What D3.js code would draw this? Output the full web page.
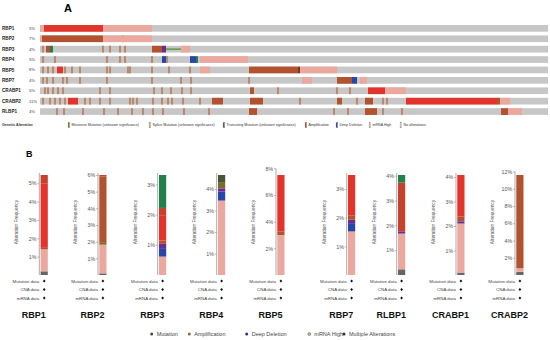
<!DOCTYPE html>
<html><head><meta charset="utf-8">
<script src="https://cdn.jsdelivr.net/npm/d3@7"></script>
<style>
html,body{margin:0;padding:0;background:#fff;}
svg{display:block;font-family:"Liberation Sans",Arial,sans-serif;}
</style></head><body>
<svg id="c" width="550" height="340"></svg>
<script>
// ---------- DATA: panel A (oncoprint) ----------
const oncoGenes = ["RBP1","RBP2","RBP3","RBP4","RBP5","RBP7","CRABP1","CRABP2","RLBP1"];
const oncoPct = ["5%","7%","4%","5%","8%","4%","5%","11%","4%"];
const sampleCount = 508;
// blocks: [startSample, endSample, type]
const blocksRBP1 = [[0,4,"mrna"],[4,63,"amp"],[63,112,"mrna"]];
const blocksRBP2 = [[0,2,"mrna"],[2,63,"ampB"],[63,112,"mrna"]];
const blocksRBP3 = [[6,10,"ampB"],[10,13,"mut"],[112,122,"ampB"],[122,126,"trunc"],[141,150,"mrna"]];
const blocksRBP4 = [[122,126,"del"],[150,156,"del"],[156,158,"mut"],[160,208,"mrna"]];
const blocksRBP5 = [[17,23,"amp"],[160,170,"mrna"],[209,258,"ampB"],[258,260,"dark"],[260,297,"mrna"]];
const blocksRBP7 = [[262,272,"mrna"],[297,312,"ampB"],[312,317,"del"],[320,327,"mrna"]];
const blocksCRABP1 = [[210,214,"ampB"],[328,345,"amp"],[345,366,"mrna"]];
const blocksCRABP2 = [[28,38,"amp"],[172,183,"ampB"],[210,223,"ampB"],[297,302,"ampB"],[325,333,"ampB"],[366,457,"amp"],[457,460,"ampB"],[460,470,"mrna"]];
const blocksRLBP1 = [[209,217,"ampB"],[325,337,"ampB"],[461,468,"ampB"],[468,482,"mrna"]];
// thin mutation lines: [start, end]
const linesRBP3 = [[126,141]];
// single-sample mutation ticks
const ticksRBP1 = [];
const ticksRBP2 = [83];
const ticksRBP3 = [3,63,70,80,85];
const ticksRBP4 = [3,15,67,80,85,112,127];
const ticksRBP5 = [3,8,13,25,32,40,67,70,88,90,112,129,150];
const ticksRBP7 = [3,7,13,23,27,40,67,112,141,151,209];
const ticksCRABP1 = [5,8,13,18,23,60,70,114,122,131,142,151,238,297,310];
const ticksCRABP2 = [3,10,15,20,25,45,50,60,70,90,93,97,113,122,128,132,143,160,260,317,343,347];
const ticksRLBP1 = [17,24,43,64,78,92,103,113,123,144,169,294,308,343,362];
const oncoLegend = ["Missense Mutation (unknown significance)","Splice Mutation (unknown significance)","Truncating Mutation (unknown significance)","Amplification","Deep Deletion","mRNA High","No alterations"];

// ---------- DATA: panel B (alteration frequency) ----------
const freqGenes = ["RBP1","RBP2","RBP3","RBP4","RBP5","RBP7","RLBP1","CRABP1","CRABP2"];
// stacked segments bottom->top: [type, percent]
const freqRBP1 = [["multi",0.2],["mrna",1.2],["ampB",0.08],["amp",3.52],["ampD",0.45]];
const freqRBP2 = [["multi",0.1],["mrna",1.72],["olive",0.15],["ampB",3.93],["ampD",0.1]];
const freqRBP3 = [["mrna",0.61],["del",0.28],["trunc",0.14],["ampB",0.11],["amp",0.84],["ampD",0.24],["mut",1.09]];
const freqRBP4 = [["mrna",3.46],["del",0.42],["trunc",0.15],["olive",0.26],["dkolive",0.36]];
const freqRBP5 = [["mrna",3.0],["ampB",0.25],["amp",4.25]];
const freqRBP7 = [["mrna",1.52],["del",0.29],["trunc",0.12],["ampB",0.14],["amp",1.42]];
const freqRLBP1 = [["multi",0.23],["mrna",1.44],["trunc",0.09],["ampD",1.96],["mut",0.31]];
const freqCRABP1 = [["multi",0.1],["mrna",2.0],["trunc",0.09],["ampB",0.2],["amp",1.69]];
const freqCRABP2 = [["multi",0.38],["mrna",0.4],["ampB",10.82]];
const freqTicks = [[1,2,3,4,5],[1,2,3,4,5,6],[1,2,3],[1,2,3,4],[2,4,6,8],[1,2,3],[1,2,3,4],[1,2,3,4],[2,4,6,8,10,12]];
const dataRows = ["Mutation data","CNA data","mRNA data"];
const freqLegend = ["Mutation","Amplification","Deep Deletion","mRNA High","Multiple Alterations"];

// ---------- STYLE / LAYOUT ----------
const colors = {amp:"#e3342c", ampB:"#b0532e", ampD:"#c5432c", del:"#2b45a6", trunc:"#6a2c94",
  mrna:"#eba89f", multi:"#666666", mut:"#23804a", olive:"#7d6a2c", dkolive:"#4b5535", dark:"#7a3a22"};
const chartAxisX = [39.3, 98, 157.7, 216.7, 276, 346.7, 396.7, 456, 515];

const svg = d3.select("#c");

// ===== Panel A =====
svg.append("text").attr("x",64).attr("y",12).attr("font-size",11).attr("font-weight","bold").text("A");
const xs = d3.scaleLinear().domain([0,sampleCount]).range([40,548]);
const ys = d3.scaleBand().domain(oncoGenes).range([25,114.9]).paddingInner(0.356).paddingOuter(0);
const blockMap = {RBP1:blocksRBP1,RBP2:blocksRBP2,RBP3:blocksRBP3,RBP4:blocksRBP4,RBP5:blocksRBP5,RBP7:blocksRBP7,CRABP1:blocksCRABP1,CRABP2:blocksCRABP2,RLBP1:blocksRLBP1};
const tickMap = {RBP1:ticksRBP1,RBP2:ticksRBP2,RBP3:ticksRBP3,RBP4:ticksRBP4,RBP5:ticksRBP5,RBP7:ticksRBP7,CRABP1:ticksCRABP1,CRABP2:ticksCRABP2,RLBP1:ticksRLBP1};
const lineMap = {RBP3:linesRBP3};

oncoGenes.forEach((g,i)=>{
  const y0 = ys(g), h = ys.bandwidth();
  const row = svg.append("g");
  row.append("text").attr("x",2).attr("y",y0+h/2+1.6).attr("font-size",4.6).attr("font-weight","bold").attr("fill","#222").text(g);
  row.append("text").attr("x",29).attr("y",y0+h/2+1.5).attr("font-size",4.2).attr("fill","#444").text(oncoPct[i]);
  row.append("rect").attr("x",xs(0)).attr("y",y0).attr("width",xs(sampleCount)-xs(0)).attr("height",h).attr("fill","#c7c7c7");
  row.selectAll("rect.tk").data(tickMap[g]).enter().append("rect").attr("class","tk")
    .attr("x",d=>xs(d)-1.2).attr("y",y0).attr("width",2.4).attr("height",h).attr("fill","#dcb3a1");
  row.selectAll("rect.tc").data(tickMap[g]).enter().append("rect").attr("class","tc")
    .attr("x",d=>xs(d)-0.45).attr("y",y0).attr("width",0.9).attr("height",h).attr("fill","#8a5a3a");
  row.selectAll("rect.bl").data(blockMap[g]).enter().append("rect").attr("class","bl")
    .attr("x",d=>xs(d[0])).attr("y",y0).attr("width",d=>xs(d[1])-xs(d[0])).attr("height",h).attr("fill",d=>colors[d[2]]);
  row.selectAll("rect.ln").data(lineMap[g]||[]).enter().append("rect").attr("class","ln")
    .attr("x",d=>xs(d[0])).attr("y",y0+h/2-0.7).attr("width",d=>xs(d[1])-xs(d[0])).attr("height",1.4).attr("fill","#4c9a3a");
});

// legend A
const legA = svg.append("g").attr("font-size",3.6).attr("fill","#333");
legA.append("text").attr("x",2).attr("y",126.3).attr("font-weight","bold").text("Genetic Alteration");
const legAX = [68,149,223,305,336,369,400];
const legAColors = ["#6f7a3a","#c9a888","#555555","#b0532e","#2b45a6","#dcb3a1","#c7c7c7"];
oncoLegend.forEach((t,i)=>{
  legA.append("rect").attr("x",legAX[i]).attr("y",122).attr("width",1.6).attr("height",6).attr("fill",legAColors[i]).attr("stroke","#999").attr("stroke-width",0.2);
  legA.append("text").attr("x",legAX[i]+3.5).attr("y",126.3).text(t);
});

// ===== Panel B =====
svg.append("text").attr("x",26).attr("y",157).attr("font-size",9).attr("font-weight","bold").text("B");
const freqMap = {RBP1:freqRBP1,RBP2:freqRBP2,RBP3:freqRBP3,RBP4:freqRBP4,RBP5:freqRBP5,RBP7:freqRBP7,RLBP1:freqRLBP1,CRABP1:freqCRABP1,CRABP2:freqCRABP2};
freqGenes.forEach((g,i)=>{
  const segs = freqMap[g];
  const total = d3.sum(segs,d=>d[1]);
  const y = d3.scaleLinear().domain([0,total]).range([275,175]);
  const ax = chartAxisX[i];
  const bx = ax+1.3, bw = 7.2, cx = bx+bw/2;
  const gg = svg.append("g");
  let acc = 0;
  const stacked = segs.map(s=>{const o={type:s[0],y0:acc,y1:acc+s[1]}; acc+=s[1]; return o;});
  gg.selectAll("rect").data(stacked).enter().append("rect")
    .attr("x",bx).attr("width",bw).attr("y",d=>y(d.y1)).attr("height",d=>y(d.y0)-y(d.y1)).attr("fill",d=>colors[d.type]);
  const ticks = freqTicks[i];
  const axis = d3.axisLeft(y).tickValues(ticks).tickFormat(d=>d+"%").tickSize(2).tickSizeOuter(0);
  const ag = gg.append("g").attr("transform",`translate(${ax},0)`).call(axis);
  ag.select(".domain").remove();
  ag.selectAll(".tick line").attr("stroke","#c77").attr("stroke-width",0.6);
  ag.selectAll(".tick text").attr("font-size",5.3).attr("fill","#555").attr("x",-2.8).attr("font-family","Liberation Sans, Arial, sans-serif");
  const topY = Math.min(y(d3.max(ticks)), 173);
  gg.append("line").attr("x1",ax).attr("x2",ax).attr("y1",topY).attr("y2",275).attr("stroke","#888").attr("stroke-width",0.7);
  gg.append("text").attr("transform",`translate(${ax-21},222) rotate(-90)`).attr("text-anchor","middle")
    .attr("font-size",4.8).attr("fill","#555").text("Alteration Frequency");
  dataRows.forEach((r,k)=>{
    const yy = 281 + k*8.5;
    gg.append("text").attr("x",cx-5).attr("y",yy+1.5).attr("text-anchor","end").attr("font-size",4.4).attr("fill","#444").text(r);
    gg.append("path").attr("d",`M${cx},${yy-1.4}L${cx+1.4},${yy}L${cx},${yy+1.4}L${cx-1.4},${yy}Z`).attr("fill","#111");
  });
  gg.append("text").attr("x",ax-5.5).attr("y",318).attr("text-anchor","middle").attr("font-size",9).attr("font-weight","bold").attr("fill","#111").text(g);
});

// legend B
const legB = svg.append("g").attr("font-size",5.5).attr("fill","#444");
const legBDot = [151.7,189.3,246.7,309.3,344];
const legBColors = ["#3d4f47","#8b6442","#25378c","#bbbbbb","#333333"];
freqLegend.forEach((t,i)=>{
  legB.append("circle").attr("cx",legBDot[i]).attr("cy",334).attr("r",1.5).attr("fill",legBColors[i]).attr("stroke",i===3?"#555":"none").attr("stroke-width",0.5);
  legB.append("text").attr("x",legBDot[i]+5).attr("y",336).text(t);
});
</script>
</body></html>
